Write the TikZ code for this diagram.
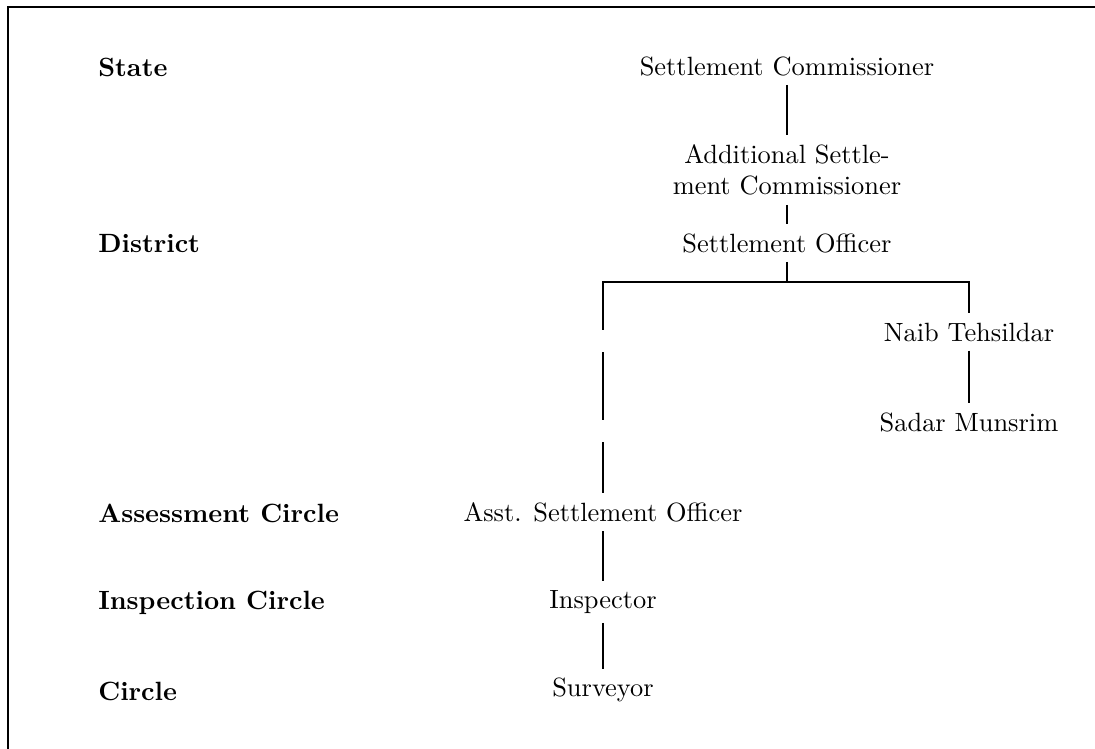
\documentclass[tikz,border=0pt]{standalone}
\usepackage{tikz}
\usetikzlibrary{positioning}

\begin{document}
\begin{tikzpicture}[
    x=0.3788pt, y=-0.3788pt,
    level/.style={anchor=west, font=\bfseries},
    post/.style={align=center},
    ghost/.style={inner sep=0pt, minimum size=8pt}
]
\useasboundingbox (0,0) rectangle (1095,749);
\draw (8,749) -- (8,7) -- (1095,7);

% levels
\node[level] (lstate) at (89,67) {State};
\node[level] (ldist) at (89,244) {District};
\node[level] (lassess) at (89,513) {Assessment Circle};
\node[level] (linsp) at (89,603) {Inspection Circle};
\node[level] (lcircle) at (89,691) {Circle};

% posts
\node[post] (sc) at (787,66) {Settlement Commissioner};
\node[post] (asc) at (787,170) {Additional Settle-\\ment Commissioner};
\node[post] (so) at (787,243) {Settlement Officer};
\node[post] (nt) at (969,332) {Naib Tehsildar};
\node[post] (sm) at (969,422) {Sadar Munsrim};
\node[post] (aso) at (603,512) {Asst. Settlement Officer};
\node[post] (insp) at (603,602) {Inspector};
\node[post] (surv) at (603,690) {Surveyor};

% branch points
\coordinate (bm) at (787,282);
\coordinate (bl) at (603,282);
\coordinate (br) at (969,282);
\node[ghost] (g1) at (603,341) {};
\node[ghost] (g2) at (603,431) {};

\draw (sc) -- (asc);
\draw (asc) -- (so);
\draw (so) -- (bm);
\draw (g1) -- (bl) -- (br) -- (nt);
\draw (nt) -- (sm);
\draw (g1) -- (g2);
\draw (g2) -- (aso);
\draw (aso) -- (insp);
\draw (insp) -- (surv);
\end{tikzpicture}
\end{document}
